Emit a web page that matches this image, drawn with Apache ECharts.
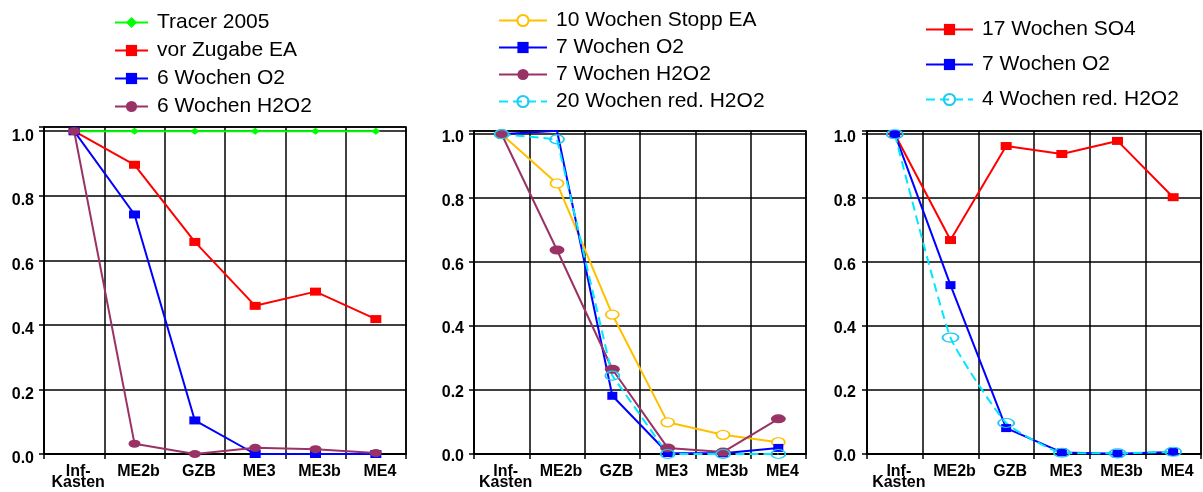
<!DOCTYPE html>
<html><head><meta charset="utf-8">
<script src="https://cdn.jsdelivr.net/npm/echarts@6/dist/echarts.min.js"></script>
<style>html,body{margin:0;padding:0;background:#fff}#c{width:1203px;height:492px}</style>
</head><body><div id="c"></div>
<script>
// ---- data ----
const categories = ['Inf-\nKasten', 'ME2b', 'GZB', 'ME3', 'ME3b', 'ME4'];
const yTickStep = 0.2;

// Panel 1
const tracer2005     = [1.0, 1.0, 1.0, 1.0, 1.0, 1.0];
const vorZugabeEA    = [1.0, 0.896, 0.657, 0.459, 0.503, 0.418];
const wochen6O2      = [1.0, 0.742, 0.104, 0.0, 0.0, 0.0];
const wochen6H2O2    = [1.0, 0.032, 0.0, 0.019, 0.015, 0.003];

// Panel 2
const wochen10StoppEA = [1.0, 0.846, 0.436, 0.099, 0.060, 0.037];
const wochen7O2_p2    = [1.0, 1.011, 0.182, 0.003, 0.002, 0.019];
const wochen7H2O2     = [1.0, 0.638, 0.265, 0.019, 0.006, 0.110];
const wochen20redH2O2 = [1.0, 0.984, 0.245, 0.0, 0.0, 0.0];

// Panel 3
const wochen17SO4    = [1.0, 0.669, 0.963, 0.938, 0.979, 0.803];
const wochen7O2_p3   = [1.0, 0.528, 0.081, 0.005, 0.001, 0.006];
const wochen4redH2O2 = [1.0, 0.364, 0.097, 0.004, 0.002, 0.007];

// ---- chart ----
const FONT = 'Liberation Sans, Arial, sans-serif';
const C = {green:'#00FF00', red:'#FF0000', blue:'#0000FF', purple:'#993366', gold:'#FFC000', cyan:'#00E8FF', cyanB:'#22C8F0'};

function xAx(i) {
  return {
    type: 'category', gridIndex: i, data: categories, boundaryGap: true,
    axisLine: {lineStyle: {color: '#000', width: 2}},
    axisTick: {show: true, length: 5, interval: 0, lineStyle: {color: '#000', width: 1.5}},
    axisLabel: {interval: 0, margin: 12, fontSize: 16, fontWeight: 'bold', fontFamily: FONT,
                color: '#000', lineHeight: 11, padding: [0, 0, 0, 8]},
    splitLine: {show: true, interval: 0, lineStyle: {color: '#000', width: 1.5}}
  };
}
function yAx(i, max, lh, margin) {
  return {
    type: 'value', gridIndex: i, min: 0, max: max, interval: yTickStep,
    axisLine: {show: true, lineStyle: {color: '#000', width: 2}},
    axisTick: {show: true, length: 5, lineStyle: {color: '#000', width: 1.5}},
    axisLabel: {margin: margin, fontSize: 16, fontWeight: 'bold', fontFamily: FONT, color: '#000',
                verticalAlign: 'top', lineHeight: lh,
                formatter: v => (Math.abs(v / yTickStep - Math.round(v / yTickStep)) < 1e-6 ? v.toFixed(1) : '')},
    splitLine: {show: true, lineStyle: {color: '#000', width: 1.5}}
  };
}
function ln(name, idx, data, color, symbol, size, extra) {
  const s = {
    name, type: 'line', xAxisIndex: idx, yAxisIndex: idx, data,
    symbol, symbolSize: size, showAllSymbol: true,
    itemStyle: {color: color}, lineStyle: {color: color, width: 2}
  };
  return Object.assign(s, extra || {});
}
function legendText() {
  return {fontSize: 21, fontFamily: FONT, color: '#000', lineHeight: 21, padding: [0, 0, 0, 4]};
}

const option = {
  animation: false,
  backgroundColor: '#fff',
  grid: [
    {left: 44, top: 127, width: 362, bottom: 38, show: true, borderColor: '#000', borderWidth: 1.5},
    {left: 474, top: 131, width: 332, bottom: 38, show: true, borderColor: '#000', borderWidth: 1.5},
    {left: 867, top: 131, width: 334, bottom: 38, show: true, borderColor: '#000', borderWidth: 1.5}
  ],
  xAxis: [xAx(0), xAx(1), xAx(2)],
  yAxis: [yAx(0, 1.013, 10, 10), yAx(1, 1.01, 6, 10), yAx(2, 1.01, 6, 11)],
  legend: [
    {data: ['Tracer 2005', 'vor Zugabe EA', '6 Wochen O2', '6 Wochen H2O2'],
     orient: 'vertical', left: 114, top: 12, padding: 0, itemWidth: 33, itemHeight: 14, itemGap: 7,
     textStyle: legendText(), selectedMode: false},
    {data: ['10 Wochen Stopp EA', '7 Wochen O2', '7 Wochen H2O2', '20 Wochen red. H2O2'],
     orient: 'vertical', left: 498, top: 10, padding: 0, itemWidth: 48, itemHeight: 14, itemGap: 6,
     textStyle: legendText(), selectedMode: false},
    {data: ['17 Wochen SO4', '7 Wochen O2', '4 Wochen red. H2O2'],
     orient: 'vertical', left: 925, top: 19, padding: 0, itemWidth: 47, itemHeight: 14, itemGap: 14,
     textStyle: legendText(), selectedMode: false}
  ],
  series: [
    // panel 1
    ln('Tracer 2005', 0, tracer2005, C.green, 'diamond', [9, 7]),
    ln('vor Zugabe EA', 0, vorZugabeEA, C.red, 'rect', [11, 8]),
    ln('6 Wochen O2', 0, wochen6O2, C.blue, 'rect', [11, 8]),
    ln('6 Wochen H2O2', 0, wochen6H2O2, C.purple, 'circle', [12, 8]),
    // panel 2
    ln('10 Wochen Stopp EA', 1, wochen10StoppEA, C.gold, 'circle', [13, 9],
       {itemStyle: {color: '#fff', borderColor: C.gold, borderWidth: 1.5}}),
    ln('7 Wochen O2', 1, wochen7O2_p2, C.blue, 'rect', [10, 8]),
    ln('7 Wochen H2O2', 1, wochen7H2O2, C.purple, 'circle', [15, 9]),
    ln('20 Wochen red. H2O2', 1, wochen20redH2O2, C.cyan, 'circle', [14, 9],
       {itemStyle: {color: 'rgba(0,0,0,0)', borderColor: C.cyanB, borderWidth: 1.5},
        lineStyle: {color: C.cyan, width: 2, type: [9, 5]}}),
    // panel 3
    ln('17 Wochen SO4', 2, wochen17SO4, C.red, 'rect', [11, 8]),
    ln('7 Wochen O2', 2, wochen7O2_p3, C.blue, 'rect', [10, 8]),
    ln('4 Wochen red. H2O2', 2, wochen4redH2O2, C.cyan, 'circle', [16, 9],
       {smooth: 0.15,
        itemStyle: {color: 'rgba(0,0,0,0)', borderColor: C.cyanB, borderWidth: 1.5},
        lineStyle: {color: C.cyan, width: 2, type: [9, 5]}})
  ]
};
const chart = echarts.init(document.getElementById('c'), null, {renderer: 'canvas'});
chart.setOption(option);
</script>
</body></html>
